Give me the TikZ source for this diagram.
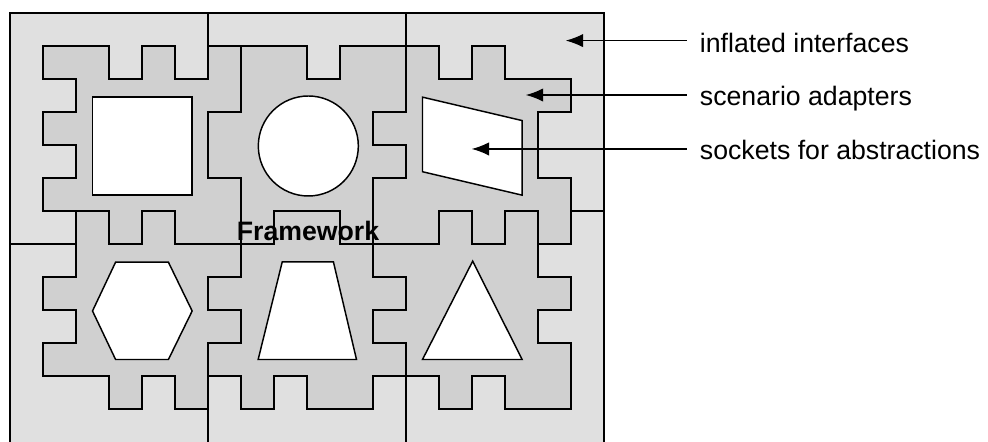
\documentclass[tikz,border=0pt]{standalone}
\usepackage{fontspec}
\setmainfont{Liberation Sans}
\usetikzlibrary{arrows.meta}
\definecolor{framegrey}{RGB}{224,224,224}
\definecolor{piecegrey}{RGB}{208,208,208}
\tikzset{
  frameline/.style={draw=black, line width=1.3pt},
  piece/.style={fill=piecegrey, draw=black, line width=1.3pt, line join=miter},
  socket/.style={fill=white, draw=black, line width=1.1pt, line join=miter},
  leader/.style={draw=black, line width=1pt},
  lbl/.style={font=\fontsize{20pt}{24pt}\selectfont, anchor=base west, inner sep=0pt},
  fw/.style={font=\bfseries\fontsize{20pt}{24pt}\selectfont, anchor=base, inner sep=0pt},
}
\begin{document}
\begin{tikzpicture}[x=24.75pt, y=-24.75pt]
\useasboundingbox (-0.30303,-0.39394) rectangle (29.63636,13.0);
% frame (inflated interfaces)
\begin{scope}
\clip (-0.30303,-0.39394) rectangle (29.63636,13.0);
\fill[framegrey] (0,0) rectangle (18,13.5);
\draw[frameline] (0,13.5) -- (0,0) -- (18,0) -- (18,13.5);
\draw[frameline] (6,12) -- (6,13.5);
\draw[frameline] (12,11) -- (12,13.5);
\end{scope}
% tile boundaries
\draw[frameline] (6,0) -- (6,1);
\draw[frameline] (12,0) -- (12,1);
\draw[frameline] (0,7) -- (2,7);
\draw[frameline] (17,6) -- (18,6);
% piece A
\draw[piece] (1,1)--(3,1)--(3,2)--(4,2)--(4,1)--(5,1)--(5,2)--(6,2)--(6,1)--(7,1)--(7,3)--(6,3)--(6,5)--(7,5)--(7,7)--(5,7)--(5,6)--(4,6)--(4,7)--(3,7)--(3,6)--(1,6)--(1,5)--(2,5)--(2,4)--(1,4)--(1,3)--(2,3)--(2,2)--(1,2)--cycle;
% piece B
\draw[piece] (7,1)--(9,1)--(9,2)--(10,2)--(10,1)--(12,1)--(12,3)--(11,3)--(11,4)--(12,4)--(12,5)--(11,5)--(11,7)--(10,7)--(10,6)--(8,6)--(8,7)--(7,7)--(7,5)--(6,5)--(6,3)--(7,3)--cycle;
% piece C
\draw[piece] (12,1)--(13,1)--(13,2)--(14,2)--(14,1)--(15,1)--(15,2)--(17,2)--(17,3)--(16,3)--(16,5)--(17,5)--(17,7)--(16,7)--(16,6)--(15,6)--(15,7)--(14,7)--(14,6)--(13,6)--(13,7)--(11,7)--(11,5)--(12,5)--(12,4)--(11,4)--(11,3)--(12,3)--cycle;
% piece D
\draw[piece] (2,6)--(3,6)--(3,7)--(4,7)--(4,6)--(5,6)--(5,7)--(7,7)--(7,8)--(6,8)--(6,9)--(7,9)--(7,10)--(6,10)--(6,12)--(5,12)--(5,11)--(4,11)--(4,12)--(3,12)--(3,11)--(1,11)--(1,10)--(2,10)--(2,9)--(1,9)--(1,8)--(2,8)--cycle;
% piece E
\draw[piece] (7,7)--(8,7)--(8,6)--(10,6)--(10,7)--(11,7)--(11,8)--(12,8)--(12,9)--(11,9)--(11,10)--(12,10)--(12,11)--(11,11)--(11,12)--(9,12)--(9,11)--(8,11)--(8,12)--(7,12)--(7,11)--(6,11)--(6,10)--(7,10)--(7,9)--(6,9)--(6,8)--(7,8)--cycle;
% piece F
\draw[piece] (11,7)--(13,7)--(13,6)--(14,6)--(14,7)--(15,7)--(15,6)--(16,6)--(16,8)--(17,8)--(17,9)--(16,9)--(16,10)--(17,10)--(17,12)--(15,12)--(15,11)--(14,11)--(14,12)--(13,12)--(13,11)--(12,11)--(12,10)--(11,10)--(11,9)--(12,9)--(12,8)--(11,8)--cycle;
% sockets
\draw[socket] (2.5,2.55) rectangle (5.52,5.52);
\draw[socket] (9.04,4.03) circle[radius=37.5pt];
\draw[socket] (12.5,2.55)--(15.52,3.26)--(15.52,5.52)--(12.5,4.81)--cycle;
\draw[socket] (3.2,7.55)--(4.8,7.55)--(5.52,9.03)--(4.8,10.5)--(3.2,10.5)--(2.5,9.03)--cycle;
\draw[socket] (8.25,7.54)--(9.8,7.54)--(10.5,10.5)--(7.52,10.5)--cycle;
\draw[socket] (14.02,7.52)--(15.52,10.5)--(12.5,10.5)--cycle;
% text
\node[fw] (fw) at (9.03,6.88) {Framework};
\node[lbl] (l1) at (20.9,1.21) {inflated interfaces};
\node[lbl] (l2) at (20.9,2.79) {scenario adapters};
\node[lbl] (l3) at (20.9,4.45) {sockets for abstractions};
\coordinate (s1) at (20.5,0.836);
\coordinate (t1) at (16.84,0.836);
\coordinate (s2) at (20.5,2.485);
\coordinate (t2) at (15.63,2.485);
\coordinate (s3) at (20.5,4.12);
\coordinate (t3) at (13.99,4.12);
\draw[leader, arrows={-Latex[length=13pt,width=10pt]}] (s1) -- (t1);
\draw[leader, arrows={-Latex[length=13pt,width=10pt]}] (s2) -- (t2);
\draw[leader, arrows={-Latex[length=13pt,width=10pt]}] (s3) -- (t3);
\end{tikzpicture}
\end{document}
